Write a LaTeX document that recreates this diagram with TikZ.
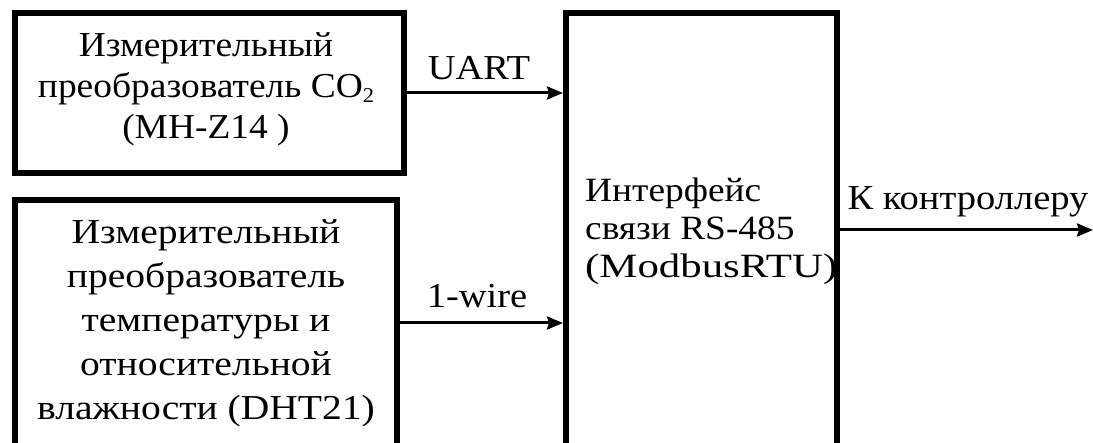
\documentclass[tikz,border=0pt]{standalone}
\usepackage{fontspec}
\setmainfont{Liberation Serif}
\newfontfamily\wideA[FakeStretch=1.1]{Liberation Serif}
\newfontfamily\wideD[FakeStretch=1.07]{Liberation Serif}
\newfontfamily\wideB[FakeStretch=1.13]{Liberation Serif}
\newfontfamily\wideC[FakeStretch=1.26]{Liberation Serif}
\usetikzlibrary{arrows.meta}
\begin{document}
\begin{tikzpicture}[x=1pt,y=-1pt,
  blk/.style={draw,line width=6pt,rectangle,inner sep=0pt},
  txt/.style={font=\wideA\fontsize{35}{41}\selectfont,align=center,inner sep=0pt},
  arr/.style={line width=3pt,-{Stealth[length=16pt,width=13pt,inset=2pt]}}]
\useasboundingbox (0,0) rectangle (1093,443);
\clip (0,0) rectangle (1093,443);
\node[blk,minimum width=389pt,minimum height=160pt] (b1) at (209.5,93) {};
\node[blk,minimum width=382pt,minimum height=270pt] (b2) at (206,335) {};
\node[blk,minimum width=271pt,minimum height=457pt] (c) at (701.5,241.5) {};
\node[txt,font=\wideD\fontsize{35}{41}\selectfont] (t1) at (206,89) {Измерительный\\преобразователь CO\raisebox{-0.35ex}{\fontsize{21}{21}\selectfont 2}\\(MH-Z14 )};
\node[txt,font=\wideB\fontsize{35}{44}\selectfont] (t2) at (206,323) {Измерительный\\преобразователь\\температуры и\\относительной\\влажности (DHT21)};
\node[txt,font=\wideA\fontsize{34}{38}\selectfont,align=left,anchor=west] (tc) at (585,231) {Интерфейс\\связи RS-485\\{\wideC(ModbusRTU)}};
\coordinate (w) at (0,323);
\coordinate (o) at (0,230);
\coordinate (out) at (1093,230);
\draw[arr] (b1.east) -- (b1.east -| c.west);
\draw[arr] (b2.east |- w) -- (c.west |- w);
\draw[arr] (c.east |- o) -- (out);
\node[txt,anchor=base] (l1) at (479,80) {UART};
\node[txt,anchor=base] (l2) at (477,308) {1-wire};
\node[txt,anchor=base] (l3) at (968,210) {К контроллеру};
\end{tikzpicture}
\end{document}
